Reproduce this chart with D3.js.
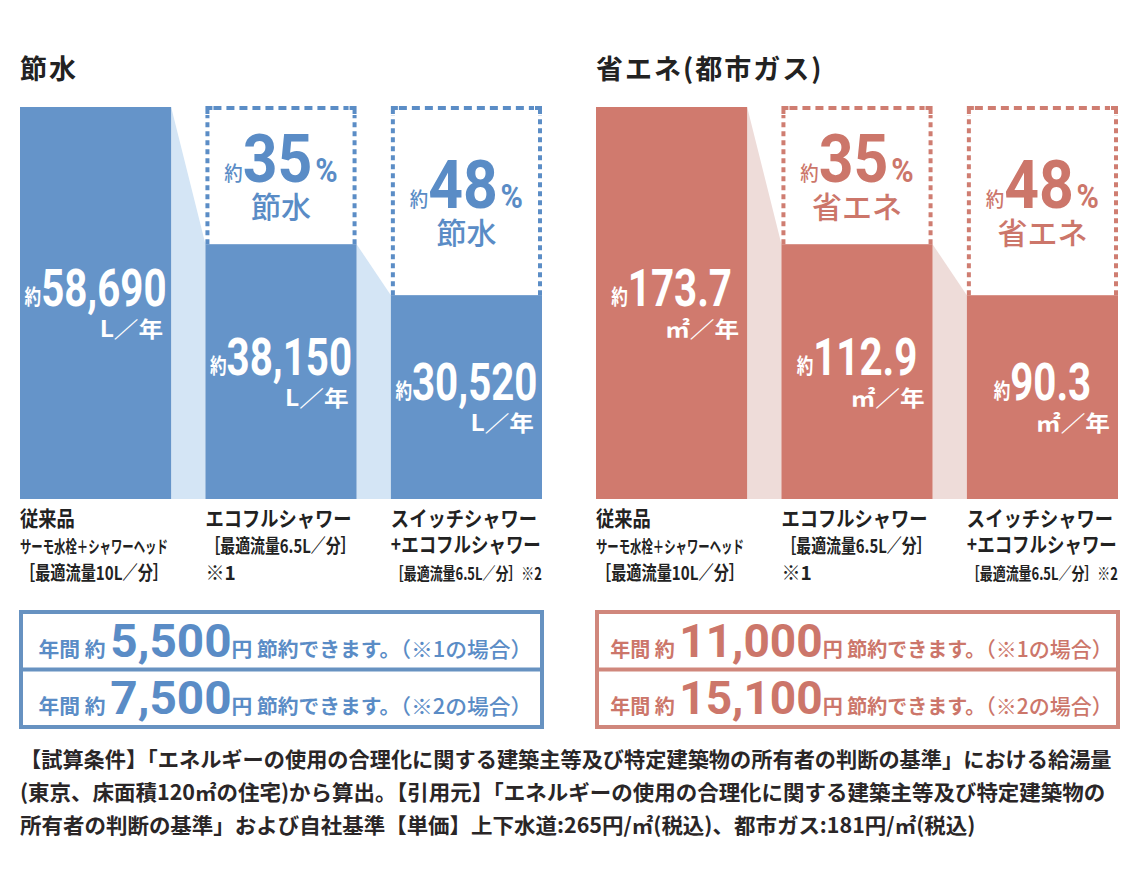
<!DOCTYPE html>
<html><head><meta charset="utf-8">
<script src="https://cdn.jsdelivr.net/npm/d3@7"></script>
<style>
body{margin:0;background:#fff;}
svg{display:block;font-family:"Noto Sans CJK JP","Noto Sans",sans-serif;}
</style></head><body>
<svg id="c" width="1125" height="883"></svg>
<script>
// ---------- DATA ----------
const categories = ["従来品", "エコフルシャワー", "スイッチシャワー"];
const labelLine2 = ["サーモ水栓＋シャワーヘッド", "［最適流量6.5L／分］", "+エコフルシャワー"];
const labelLine3 = ["［最適流量10L／分］", "※1", "［最適流量6.5L／分］※2"];
const panelTitles = ["節水", "省エネ(都市ガス)"];
const waterValues = [58690, 38150, 30520];
const gasValues = [173.7, 112.9, 90.3];
const units = ["L／年", "㎡／年"];
const savingRates = [null, 35, 48];
const savingWords = ["節水", "省エネ"];
const waterYen = [5500, 7500];
const gasYen = [11000, 15100];
const caseNotes = ["※1", "※2"];
const footnoteLines = [
  "【試算条件】「エネルギーの使用の合理化に関する建築主等及び特定建築物の所有者の判断の基準」における給湯量",
  "(東京、床面積120㎡の住宅)から算出。【引用元】「エネルギーの使用の合理化に関する建築主等及び特定建築物の",
  "所有者の判断の基準」および自社基準【単価】上下水道:265円/㎡(税込)、都市ガス:181円/㎡(税込)"
];

// ---------- HELPERS ----------
const svg = d3.select("#c");
const NUM = "Roboto, 'Liberation Sans', Arial, sans-serif";
function txt(g, x, y) {
  return g.append("text").attr("x", 0).attr("y", 0).attr("data-x", x).attr("data-y", y)
    .attr("transform", `translate(${x},${y})`);
}
function fit(t, factor, maxW, exactW) {
  const L = t.node().getComputedTextLength();
  let f = factor;
  if (maxW && L * f > maxW) f = maxW / L;
  if (exactW) f = exactW / L;
  t.attr("transform", `translate(${t.attr("data-x")},${t.attr("data-y")}) scale(${f},1)`);
  return t;
}

function drawPanel(cfg) {
  const g = svg.append("g");
  const x = d3.scaleBand().domain(categories).range([cfg.x0, cfg.x0 + 522]).paddingInner(0.185).paddingOuter(0);
  const y = d3.scaleLinear().domain([0, d3.max(cfg.values)]).range([499, 107]);
  const bw = x.bandwidth();
  const data = categories.map((c, i) => ({ c, i, v: cfg.values[i], rate: savingRates[i] }));

  txt(g, cfg.x0, 79)
    .attr("font-size", 27).attr("font-weight", 700).attr("fill", "#222")
    .attr("letter-spacing", 2).text(cfg.title);

  g.selectAll(".conn").data(d3.pairs(data)).join("path")
    .attr("fill", cfg.light)
    .attr("d", ([a, b]) => `M${x(a.c) + bw},${y(a.v)}L${x(b.c)},${y(b.v)}L${x(b.c)},${y(0)}L${x(a.c) + bw},${y(0)}Z`);

  g.selectAll(".bar").data(data).join("rect")
    .attr("x", d => x(d.c)).attr("y", d => y(d.v))
    .attr("width", bw).attr("height", d => y(0) - y(d.v))
    .attr("fill", cfg.bar);

  const top = y(d3.max(cfg.values)) + 1;
  data.filter(d => d.rate != null).forEach(d => {
    const l = x(d.c) + 2, r = x(d.c) + bw - 2, b = y(d.v);
    g.append("path").attr("d", `M${l + 6},${top}L${r - 6},${top}`)
      .attr("stroke", cfg.dash).attr("stroke-width", 4).attr("stroke-dasharray", "8,5").attr("fill", "none");
    g.append("path").attr("d", `M${l},${b}L${l},${top + 7}M${r},${b}L${r},${top + 7}`)
      .attr("stroke", cfg.dash).attr("stroke-width", 4).attr("stroke-dasharray", "5,4").attr("fill", "none");
    g.append("path").attr("d", `M${l},${top + 6}L${l},${top}L${l + 5},${top}M${r - 5},${top}L${r},${top}L${r},${top + 6}`)
      .attr("stroke", cfg.dash).attr("stroke-width", 4).attr("fill", "none");
    const cy = (top + b) / 2;
    const t = txt(g, x(d.c) + bw / 2, cy + 6)
      .attr("text-anchor", "middle").attr("fill", cfg.text).attr("font-weight", 700);
    t.append("tspan").attr("font-size", 20).attr("font-weight", 500).attr("dy", -1).text("約");
    t.append("tspan").attr("font-size", 66).attr("font-family", NUM).attr("dy", 1).text(d.rate);
    t.append("tspan").attr("font-size", 33).attr("font-family", NUM).attr("dx", 3).text("%");
    fit(t, 0.92);
    txt(g, x(d.c) + bw / 2, cy + 42)
      .attr("text-anchor", "middle").attr("fill", cfg.text)
      .attr("font-size", 30).attr("font-weight", 500).text(cfg.word);
  });

  data.forEach(d => {
    const cy = (y(d.v) + y(0)) / 2;
    const t = txt(g, x(d.c) + bw / 2, cy + 3)
      .attr("text-anchor", "middle").attr("fill", "#fff").attr("font-weight", 700);
    t.append("tspan").attr("font-size", 21).attr("dy", -2).text("約");
    t.append("tspan").attr("font-size", 51).attr("font-family", NUM).attr("dy", 2).text(cfg.fmt(d.v));
    fit(t, 0.79);
    const u = txt(g, x(d.c) + bw - 8, cy + 34)
      .attr("text-anchor", "end").attr("fill", "#fff").attr("font-size", 22).attr("font-weight", 700)
      .attr("word-spacing", 4).text(cfg.unit);
    fit(u, 1.12);
  });

  data.forEach(d => {
    const lx = x(d.c);
    fit(txt(g, lx, 526).attr("fill", "#222")
      .attr("font-size", 21).attr("font-weight", 700).text(d.c), 0.87, bw - 2);
    const big2 = d.i === 2;
    fit(txt(g, lx, big2 ? 552 : 553).attr("fill", "#222")
      .attr("font-size", big2 ? 21 : (d.i === 0 ? 17 : 19)).attr("font-weight", 700)
      .text(labelLine2[d.i]), big2 ? 0.87 : 1, d.i === 0 ? 148 : bw - 1);
    fit(txt(g, lx, 580).attr("fill", "#222")
      .attr("font-size", d.i === 2 ? 17 : 19).attr("font-weight", 700)
      .text(labelLine3[d.i]), 1, d.i === 0 ? 148 : bw);
  });

  const bx = cfg.x0 + 1, bwid = 521, btop = 612, bh = 115, rowH = bh / 2;
  g.append("rect").attr("x", bx).attr("y", btop).attr("width", bwid).attr("height", bh)
    .attr("fill", "#fff").attr("stroke", cfg.boxStroke).attr("stroke-width", 4);
  g.append("line").attr("x1", bx).attr("x2", bx + bwid).attr("y1", btop + rowH).attr("y2", btop + rowH)
    .attr("stroke", cfg.boxStroke).attr("stroke-width", 4);
  cfg.yen.forEach((v, i) => {
    const t = txt(g, bx + bwid / 2 + 4, btop + rowH * i + rowH / 2 + 16)
      .attr("text-anchor", "middle").attr("fill", cfg.text).attr("font-weight", 700);
    t.append("tspan").attr("font-size", 20).text("年間 約 ");
    t.append("tspan").attr("font-size", 46).attr("font-family", NUM).text(d3.format(",")(v));
    t.append("tspan").attr("font-size", 20).text("円 節約できます。");
    t.append("tspan").attr("font-size", 21).attr("font-weight", 500).text(`（${caseNotes[i]}の場合）`);
    fit(t, 1, null, cfg.rowW);
  });
}

drawPanel({
  x0: 20, title: panelTitles[0], values: waterValues, unit: units[0], word: savingWords[0],
  yen: waterYen, fmt: d3.format(","), rowW: 494,
  bar: "#6594c9", light: "#d4e5f5", dash: "#5b8dc6", text: "#5a8cc6", boxStroke: "#6792c1"
});
drawPanel({
  x0: 596, title: panelTitles[1], values: gasValues, unit: units[1], word: savingWords[1],
  yen: gasYen, fmt: d3.format(".1f"), rowW: 503,
  bar: "#d07a6e", light: "#eedcd9", dash: "#cf7d71", text: "#cc766a", boxStroke: "#d0877c"
});

const fw = [1092, 1086, 956];
const fg = svg.append("g");
footnoteLines.forEach((line, i) => {
  fit(txt(fg, 20, 767 + i * 33)
    .attr("font-size", 21).attr("font-weight", 700).attr("fill", "#2a2627")
    .text(line), 1, null, fw[i]);
});
</script>
</body></html>
